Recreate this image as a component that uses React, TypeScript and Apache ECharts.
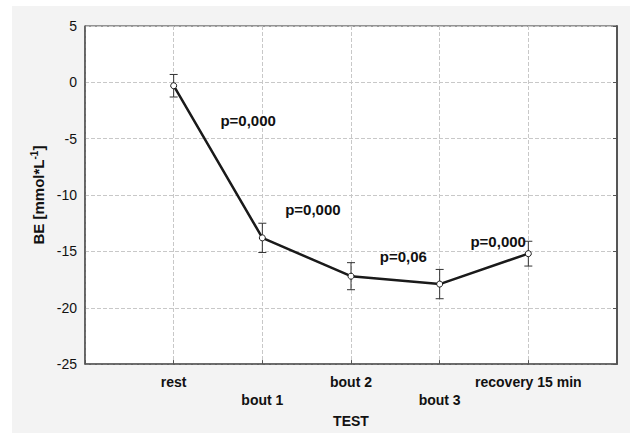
import React, { useEffect, useRef } from "react";
import * as echarts from "echarts";

const categories = ["rest", "bout 1", "bout 2", "bout 3", "recovery 15 min"];
const meanValues = [-0.3, -13.8, -17.2, -17.9, -15.2];
const errorValues = [1.0, 1.3, 1.2, 1.3, 1.1];
const yTicks = [5, 0, -5, -10, -15, -20, -25];
const annText = ["p=0,000", "p=0,000", "p=0,06", "p=0,000"];
const annX = [1.84, 2.57, 3.59, 4.66];
const annY = [-3.4, -11.3, -15.45, -14.1];

export default function App() {
  const ref = useRef<HTMLDivElement>(null);
  useEffect(() => {
    document.body.style.margin = "0";
    const chart = echarts.init(ref.current!, null, { renderer: "svg" });
    const font = "Liberation Sans, Arial, sans-serif";
    const pts = categories.map((c, i) => [i + 1, meanValues[i]]);
    const errData = categories.map((c, i) => [
      i + 1,
      meanValues[i] + errorValues[i],
      meanValues[i] - errorValues[i],
    ]);
    const annData = annText.map((t, i) => ({ value: [annX[i], annY[i]], name: t }));
    chart.setOption({
      animation: false,
      backgroundColor: "transparent",
      grid: {
        left: 85,
        top: 26,
        right: 20,
        bottom: 65,
        show: true,
        backgroundColor: "#ffffff",
        borderColor: "#333333",
        borderWidth: 1,
      },
      xAxis: {
        type: "value",
        min: 0,
        max: categories.length + 1,
        interval: 1,
        name: "TEST",
        nameLocation: "middle",
        nameGap: 47,
        nameTextStyle: { fontFamily: font, fontWeight: "bold", fontSize: 14, color: "#111" },
        axisLine: { show: true, onZero: false, lineStyle: { color: "#555", width: 1.5 } },
        axisTick: { show: true, inside: true, length: 4, lineStyle: { color: "#555" } },
        axisLabel: {
          fontFamily: font,
          fontWeight: "bold",
          fontSize: 14,
          color: "#111",
          margin: 9,
          lineHeight: 18,
          formatter: (v: number) => {
            const i = Math.round(v) - 1;
            if (i < 0 || i >= categories.length || Math.abs(v - i - 1) > 1e-6) return "";
            return i % 2 === 1 ? "\n" + categories[i] : categories[i];
          },
        },
        splitLine: { show: true, lineStyle: { color: "#c8c8c8", type: "dashed", width: 1 } },
      },
      yAxis: [
        {
          type: "value",
          min: yTicks[yTicks.length - 1],
          max: yTicks[0],
          interval: 5,
          name: "BE [mmol*L{sup|-1}]",
          nameLocation: "middle",
          nameGap: 38,
          nameTextStyle: {
            fontFamily: font,
            fontWeight: "bold",
            fontSize: 15,
            color: "#111",
            rich: {
              sup: { fontFamily: font, fontWeight: "bold", fontSize: 10, color: "#111", padding: [0, 0, 7, 0] },
            },
          },
          axisLine: { show: true, onZero: false, lineStyle: { color: "#555", width: 1.5 } },
          axisTick: { show: false },
          axisLabel: { fontFamily: font, fontSize: 14, color: "#111", margin: 8 },
          splitLine: { show: true, lineStyle: { color: "#c8c8c8", type: "dashed", width: 1 } },
        },
        {
          type: "value",
          position: "right",
          min: yTicks[yTicks.length - 1],
          max: yTicks[0],
          interval: 5,
          axisLine: { show: true, onZero: false, lineStyle: { color: "#555", width: 2 } },
          axisTick: { show: true, inside: true, length: 4, lineStyle: { color: "#555" } },
          axisLabel: { show: false },
          splitLine: { show: false },
        },
      ],
      series: [
        {
          type: "custom",
          z: 3,
          data: errData,
          renderItem: (params: any, api: any) => {
            const x = api.value(0);
            const top = api.coord([x, api.value(1)]);
            const bot = api.coord([x, api.value(2)]);
            const hw = 4;
            const style = { stroke: "#333", lineWidth: 1 };
            return {
              type: "group",
              children: [
                { type: "line", shape: { x1: top[0], y1: top[1], x2: bot[0], y2: bot[1] }, style },
                { type: "line", shape: { x1: top[0] - hw, y1: top[1], x2: top[0] + hw, y2: top[1] }, style },
                { type: "line", shape: { x1: bot[0] - hw, y1: bot[1], x2: bot[0] + hw, y2: bot[1] }, style },
              ],
            };
          },
        },
        {
          type: "line",
          z: 4,
          data: pts,
          symbol: "circle",
          symbolSize: 6,
          lineStyle: { color: "#1a1a1a", width: 2.5 },
          itemStyle: { color: "#ffffff", borderColor: "#1a1a1a", borderWidth: 1 },
        },
        {
          type: "scatter",
          z: 5,
          data: annData,
          symbolSize: 0,
          itemStyle: { opacity: 1 },
          label: {
            show: true,
            position: "inside",
            formatter: (p: any) => p.name,
            fontFamily: font,
            fontWeight: "bold",
            fontSize: 15,
            color: "#111",
            opacity: 1,
          },
        },
      ],
    });
    return () => chart.dispose();
  }, []);
  return (
    <div style={{ position: "relative", width: 637, height: 433, background: "#ffffff" }}>
      <div style={{ position: "absolute", left: 12, top: 6, width: 618, height: 427, background: "#f3f3f3" }} />
      <div ref={ref} style={{ position: "absolute", left: 0, top: 0, width: 637, height: 433 }} />
    </div>
  );
}
